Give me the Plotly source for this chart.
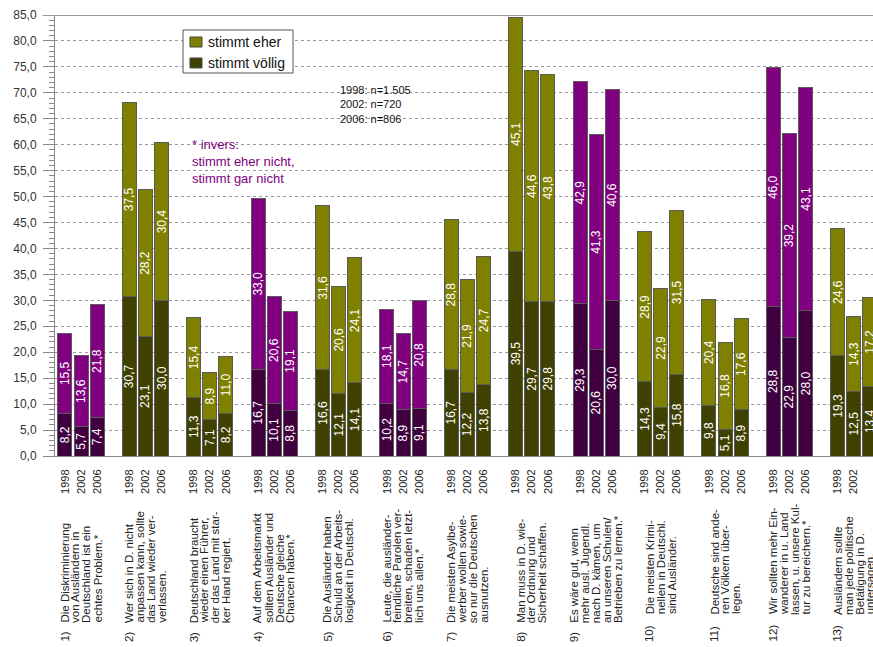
import plotly.graph_objects as go

# ---------------- data ----------------
years = ["1998", "2002", "2006"]
item_numbers = ["1)", "2)", "3)", "4)", "5)", "6)", "7)", "8)", "9)", "10)", "11)", "12)", "13)"]
statements = [
    ["Die Diskriminierung", "von Ausländern in", "Deutschland ist ein", "echtes Problem.*"],
    ["Wer sich in D. nicht", "anpassen kann, sollte", "das Land wieder ver-", "verlassen."],
    ["Deutschland braucht", "wieder einen Führer,", "der das Land mit star-", "ker Hand regiert."],
    ["Auf dem Arbeitsmarkt", "sollten Ausländer und", "Deutsche gleiche", "Chancen haben.*"],
    ["Die Ausländer haben", "Schuld an der Arbeits-", "losigkeit in Deutschl."],
    ["Leute, die ausländer-", "feindliche Parolen ver-", "breiten, schaden letzt-", "lich uns allen.*"],
    ["Die meisten Asylbe-", "werber wollen sowie-", "so nur die Deutschen", "ausnutzen."],
    ["Man muss in D. wie-", "der Ordnung und", "Sicherheit schaffen."],
    ["Es wäre gut, wenn", "mehr ausl. Jugendl.", "nach D. kämen, um", "an unseren Schulen/", "Betrieben zu lernen.*"],
    ["Die meisten Krimi-", "nellen in Deutschl.", "sind Ausländer."],
    ["Deutsche sind ande-", "ren Völkern über-", "legen."],
    ["Wir sollten mehr Ein-", "wanderer in u. Land", "lassen, u. unsere Kul-", "tur zu bereichern.*"],
    ["Ausländern sollte", "man jede politische", "Betätigung in D.", "untersagen."],
]
inverse = [True, False, False, True, False, True, False, False, True, False, False, True, False]

voellig_1998 = [8.2, 30.7, 11.3, 16.7, 16.6, 10.2, 16.7, 39.5, 29.3, 14.3, 9.8, 28.8, 19.3]
voellig_2002 = [5.7, 23.1, 7.1, 10.1, 12.1, 8.9, 12.2, 29.7, 20.6, 9.4, 5.1, 22.9, 12.5]
voellig_2006 = [7.4, 30.0, 8.2, 8.8, 14.1, 9.1, 13.8, 29.8, 30.0, 15.8, 8.9, 28.0, 13.4]
eher_1998 = [15.5, 37.5, 15.4, 33.0, 31.6, 18.1, 28.8, 45.1, 42.9, 28.9, 20.4, 46.0, 24.6]
eher_2002 = [13.6, 28.2, 8.9, 20.6, 20.6, 14.7, 21.9, 44.6, 41.3, 22.9, 16.8, 39.2, 14.3]
eher_2006 = [21.8, 30.4, 11.0, 19.1, 24.1, 20.8, 24.7, 43.8, 40.6, 31.5, 17.6, 43.1, 17.2]

legend_labels = ["stimmt eher", "stimmt völlig"]
sample_note = "1998: n=1.505<br>2002: n=720<br>2006: n=806"
invers_note = "* invers:<br>stimmt eher nicht,<br>stimmt gar nicht"

# ---------------- styles ----------------
OLIVE, OLIVE_DARK = "#808000", "#404000"
PURPLE, PURPLE_DARK = "#800080", "#400040"
FONT = "Liberation Sans, Arial, sans-serif"
GROUP_STEP = 4
BAR_W = 0.87
LINE_STEP = 0.68  # spacing of rotated statement lines (x units)
STMT_SIZE = 11.5

voellig = [voellig_1998, voellig_2002, voellig_2006]
eher = [eher_1998, eher_2002, eher_2006]


def fmt(v):
    return f"{v:.1f}".replace(".", ",")


series = {False: {"x": [], "v": [], "e": []}, True: {"x": [], "v": [], "e": []}}
tickvals, ticktext = [], []
for g in range(len(item_numbers)):
    for j in range(3):
        xp = g * GROUP_STEP + j
        s = series[inverse[g]]
        s["x"].append(xp)
        s["v"].append(voellig[j][g])
        s["e"].append(eher[j][g])
        tickvals.append(xp)
        ticktext.append(years[j])

fig = go.Figure()
common = dict(width=BAR_W, textposition="inside", textangle=-90, insidetextanchor="middle",
              textfont=dict(color="white", size=12, family=FONT), hoverinfo="skip",
              showlegend=False)
for inv, cb, ct in [(False, OLIVE_DARK, OLIVE), (True, PURPLE_DARK, PURPLE)]:
    s = series[inv]
    fig.add_trace(go.Bar(x=s["x"], y=s["v"], text=[fmt(v) for v in s["v"]], name=legend_labels[1],
                         marker=dict(color=cb, line=dict(color="#5a5a5a", width=1)), **common))
    fig.add_trace(go.Bar(x=s["x"], y=s["e"], text=[fmt(v) for v in s["e"]], name=legend_labels[0],
                         marker=dict(color=ct, line=dict(color="#5a5a5a", width=1)), **common))

annotations = []
for g, lines in enumerate(statements):
    n = len(lines)
    center = g * GROUP_STEP + 1
    x0 = center - (n - 1) / 2 * LINE_STEP
    num = item_numbers[g]
    y_text = -0.383 if len(num) == 2 else -0.364
    annotations.append(dict(x=x0, y=-0.426, xref="x", yref="paper", text=num, textangle=-90,
                            xanchor="center", yanchor="bottom", showarrow=False,
                            font=dict(size=STMT_SIZE, color="#222", family=FONT)))
    for k, line in enumerate(lines):
        annotations.append(dict(x=x0 + k * LINE_STEP, y=y_text, xref="x", yref="paper", text=line,
                                textangle=-90, xanchor="center", yanchor="bottom", showarrow=False,
                                font=dict(size=STMT_SIZE, color="#222", family=FONT)))

annotations.append(dict(x=0.346, y=0.848, xref="paper", yref="paper", text=sample_note,
                        xanchor="left", yanchor="top", align="left", showarrow=False,
                        font=dict(size=11, color="#111", family=FONT)))
annotations.append(dict(x=0.165, y=0.728, xref="paper", yref="paper", text=invers_note,
                        xanchor="left", yanchor="top", align="left", showarrow=False,
                        font=dict(size=13, color=PURPLE, family=FONT)))

# hand-drawn legend box (paper coordinates)
shapes = [dict(type="line", xref="paper", yref="y", x0=-0.015, x1=1, y0=85, y1=85,
               line=dict(color="#999", width=2)),
          dict(type="rect", xref="paper", yref="paper", x0=0.1565, x1=0.291, y0=0.8685, y1=0.966,
               fillcolor="white", line=dict(color="#555", width=1), layer="above")]
legend_colors = [OLIVE, OLIVE_DARK]
legend_y = [0.9388, 0.8912]
for lbl, col, yc in zip(legend_labels, legend_colors, legend_y):
    shapes.append(dict(type="rect", xref="paper", yref="paper", x0=0.165, x1=0.1797,
                       y0=yc - 0.0113, y1=yc + 0.0113, fillcolor=col,
                       line=dict(color="#444", width=1), layer="above"))
    annotations.append(dict(x=0.1845, y=yc, xref="paper", yref="paper", text=lbl,
                            xanchor="left", yanchor="middle", showarrow=False,
                            font=dict(size=14, color="#111", family=FONT)))

fig.update_layout(
    width=873, height=647,
    margin=dict(l=55, r=0, t=15, b=191),
    paper_bgcolor="white", plot_bgcolor="white",
    barmode="stack", separators=",.",
    font=dict(family=FONT, color="#222"),
    uniformtext=dict(mode="show", minsize=12),
    showlegend=False,
    annotations=annotations,
    shapes=shapes,
    xaxis=dict(range=[-0.62, 50.19], tickmode="array", tickvals=tickvals, ticktext=ticktext,
               tickangle=-90, tickfont=dict(size=11, color="#222", family=FONT),
               showgrid=False, zeroline=False, showline=True, linecolor="#888", linewidth=1,
               ticks="", ticklabelstandoff=8),
    yaxis=dict(range=[0, 85], dtick=5, tick0=0, tickformat=".1f",
               showgrid=True, gridcolor="#999", griddash="dot", gridwidth=1,
               zeroline=False, showline=True, linecolor="#888", linewidth=1,
               ticks="outside", ticklen=11, tickcolor="#888", ticklabelstandoff=4,
               tickfont=dict(size=12, color="#333", family=FONT),
               minor=dict(dtick=1, ticks="outside", ticklen=5, tickcolor="#888", showgrid=False)),
)

fig.write_html("out.html")
